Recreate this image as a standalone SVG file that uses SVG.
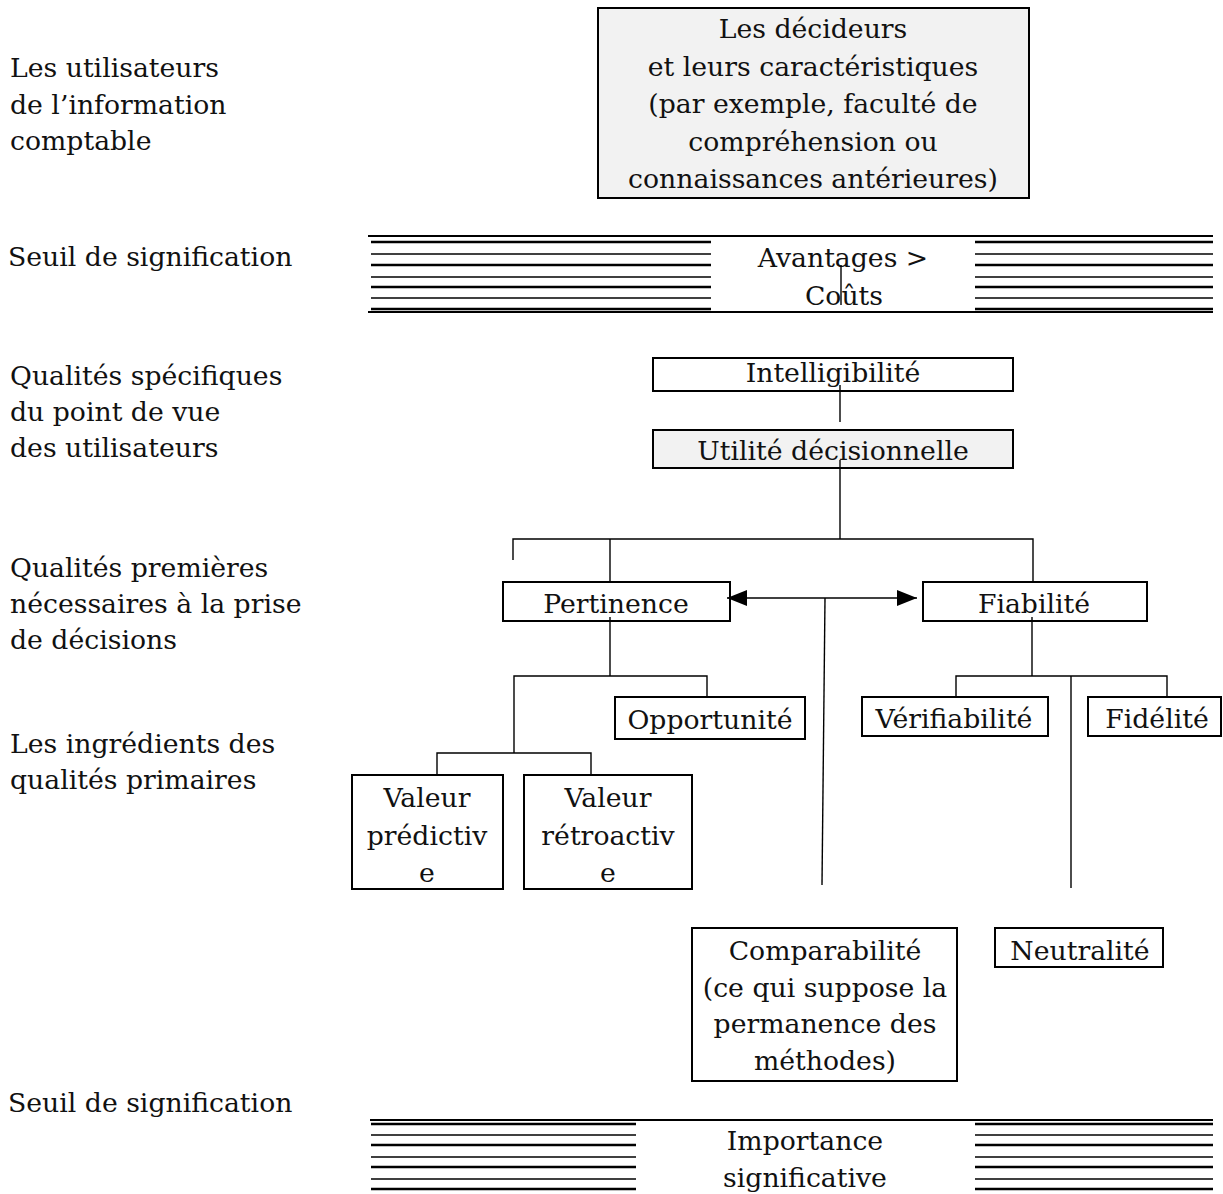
<svg xmlns="http://www.w3.org/2000/svg" width="1223" height="1194" viewBox="0 0 1223 1194">
<style>
text{font-family:"DejaVu Serif","Liberation Serif",serif;font-size:26.7px;fill:#111}
.c{text-anchor:middle}
.box{fill:#fff;stroke:#000;stroke-width:2}
.grey{fill:#f2f2f2}
.ln{stroke:#000;stroke-width:1.4;fill:none}
.rule{stroke:#000;stroke-width:2.2}
.tk{stroke:#000;stroke-width:2.4}
.tn{stroke:#000;stroke-width:1.4}
</style>
<defs>
<marker id="ah" viewBox="0 0 20 16" refX="20" refY="8" markerWidth="20" markerHeight="16" markerUnits="userSpaceOnUse" orient="auto-start-reverse">
<path d="M0,0 L20,8 L0,16 Z" fill="#000"/>
</marker>
</defs>

<g id="labels">
<text x="10" y="77">Les utilisateurs</text>
<text x="10" y="114">de l’information</text>
<text x="10" y="150">comptable</text>
<text x="8" y="266">Seuil de signification</text>
<text x="10" y="385">Qualités spécifiques</text>
<text x="10" y="421">du point de vue</text>
<text x="10" y="457">des utilisateurs</text>
<text x="10" y="577">Qualités premières</text>
<text x="10" y="613">nécessaires à la prise</text>
<text x="10" y="649">de décisions</text>
<text x="10" y="753">Les ingrédients des</text>
<text x="10" y="789">qualités primaires</text>
<text x="8" y="1112">Seuil de signification</text>
</g>

<g id="band-top">
<line class="rule" x1="368" y1="236" x2="1213" y2="236"/>
<line class="rule" x1="368" y1="312" x2="1213" y2="312"/>
<g id="hatch-top-left">
<line class="tk" x1="371" y1="242" x2="711" y2="242"/>
<line class="tn" x1="371" y1="254" x2="711" y2="254"/>
<line class="tk" x1="371" y1="265" x2="711" y2="265"/>
<line class="tn" x1="371" y1="277" x2="711" y2="277"/>
<line class="tk" x1="371" y1="287" x2="711" y2="287"/>
<line class="tn" x1="371" y1="298" x2="711" y2="298"/>
<line class="tk" x1="371" y1="309" x2="711" y2="309"/>
</g>
<g id="hatch-top-right">
<line class="tk" x1="975" y1="242" x2="1213" y2="242"/>
<line class="tn" x1="975" y1="254" x2="1213" y2="254"/>
<line class="tk" x1="975" y1="265" x2="1213" y2="265"/>
<line class="tn" x1="975" y1="277" x2="1213" y2="277"/>
<line class="tk" x1="975" y1="287" x2="1213" y2="287"/>
<line class="tn" x1="975" y1="298" x2="1213" y2="298"/>
<line class="tk" x1="975" y1="309" x2="1213" y2="309"/>
</g>
<text class="c" x="843" y="267">Avantages &gt;</text>
<text class="c" x="844" y="305">Coûts</text>
</g>

<g id="band-bottom">
<line class="rule" x1="370" y1="1120" x2="1213" y2="1120"/>
<g id="hatch-bottom-left">
<line class="tk" x1="371" y1="1124" x2="636" y2="1124"/>
<line class="tn" x1="371" y1="1135" x2="636" y2="1135"/>
<line class="tk" x1="371" y1="1145" x2="636" y2="1145"/>
<line class="tn" x1="371" y1="1157" x2="636" y2="1157"/>
<line class="tk" x1="371" y1="1167" x2="636" y2="1167"/>
<line class="tn" x1="371" y1="1179" x2="636" y2="1179"/>
<line class="tk" x1="371" y1="1189" x2="636" y2="1189"/>
</g>
<g id="hatch-bottom-right">
<line class="tk" x1="975" y1="1124" x2="1213" y2="1124"/>
<line class="tn" x1="975" y1="1135" x2="1213" y2="1135"/>
<line class="tk" x1="975" y1="1145" x2="1213" y2="1145"/>
<line class="tn" x1="975" y1="1157" x2="1213" y2="1157"/>
<line class="tk" x1="975" y1="1167" x2="1213" y2="1167"/>
<line class="tn" x1="975" y1="1179" x2="1213" y2="1179"/>
<line class="tk" x1="975" y1="1189" x2="1213" y2="1189"/>
</g>
<text class="c" x="805" y="1150">Importance</text>
<text class="c" x="805" y="1187">significative</text>
</g>

<g id="decideurs">
<rect class="box grey" x="598" y="8" width="431" height="190"/>
<text class="c" x="813" y="38">Les décideurs</text>
<text class="c" x="813" y="76">et leurs caractéristiques</text>
<text class="c" x="813" y="113">(par exemple, faculté de</text>
<text class="c" x="813" y="151">compréhension ou</text>
<text class="c" x="813" y="188">connaissances antérieures)</text>
</g>

<g id="intelligibilite">
<rect class="box" x="653" y="358" width="360" height="33"/>
<text class="c" x="833" y="382">Intelligibilité</text>
</g>

<g id="utilite">
<rect class="box grey" x="653" y="430" width="360" height="38"/>
<text class="c" x="833" y="460">Utilité décisionnelle</text>
</g>

<g id="pertinence">
<rect class="box" x="503" y="582" width="227" height="39"/>
<text class="c" x="616" y="613">Pertinence</text>
</g>

<g id="fiabilite">
<rect class="box" x="923" y="582" width="224" height="39"/>
<text class="c" x="1034" y="613">Fiabilité</text>
</g>

<g id="opportunite">
<rect class="box" x="615" y="697" width="190" height="42"/>
<text class="c" x="710" y="729">Opportunité</text>
</g>

<g id="verifiabilite">
<rect class="box" x="862" y="697" width="186" height="39"/>
<text class="c" x="954" y="728">Vérifiabilité</text>
</g>

<g id="fidelite">
<rect class="box" x="1088" y="697" width="133" height="39"/>
<text class="c" x="1157" y="728">Fidélité</text>
</g>

<g id="valeur-predictive">
<rect class="box" x="352" y="775" width="151" height="114"/>
<text class="c" x="427" y="807">Valeur</text>
<text class="c" x="427" y="845">prédictiv</text>
<text class="c" x="427" y="882">e</text>
</g>

<g id="valeur-retroactive">
<rect class="box" x="524" y="775" width="168" height="114"/>
<text class="c" x="608" y="807">Valeur</text>
<text class="c" x="608" y="845">rétroactiv</text>
<text class="c" x="608" y="882">e</text>
</g>

<g id="comparabilite">
<rect class="box" x="692" y="928" width="265" height="153"/>
<text class="c" x="825" y="960">Comparabilité</text>
<text class="c" x="825" y="997">(ce qui suppose la</text>
<text class="c" x="825" y="1033">permanence des</text>
<text class="c" x="825" y="1070">méthodes)</text>
</g>

<g id="neutralite">
<rect class="box" x="995" y="928" width="168" height="39"/>
<text class="c" x="1080" y="960">Neutralité</text>
</g>

<g id="connectors">
<line class="ln" x1="841" y1="265" x2="841" y2="305"/>
<line class="ln" x1="840" y1="385" x2="840" y2="422"/>
<line class="ln" x1="840" y1="460" x2="840" y2="539"/>
<polyline class="ln" points="513,560 513,539 1033,539 1033,582"/>
<line class="ln" x1="610" y1="539" x2="610" y2="582"/>
<line class="ln" x1="727" y1="598" x2="917" y2="598" marker-start="url(#ah)" marker-end="url(#ah)"/>
<line class="ln" x1="825" y1="598" x2="822" y2="885"/>
<line class="ln" x1="610" y1="617" x2="610" y2="676"/>
<polyline class="ln" points="514,753 514,676 707,676 707,697"/>
<polyline class="ln" points="437,775 437,753 591,753 591,775"/>
<line class="ln" x1="1032" y1="617" x2="1032" y2="676"/>
<polyline class="ln" points="956,697 956,676 1167,676 1167,697"/>
<line class="ln" x1="1071" y1="676" x2="1071" y2="888"/>
</g>
</svg>
